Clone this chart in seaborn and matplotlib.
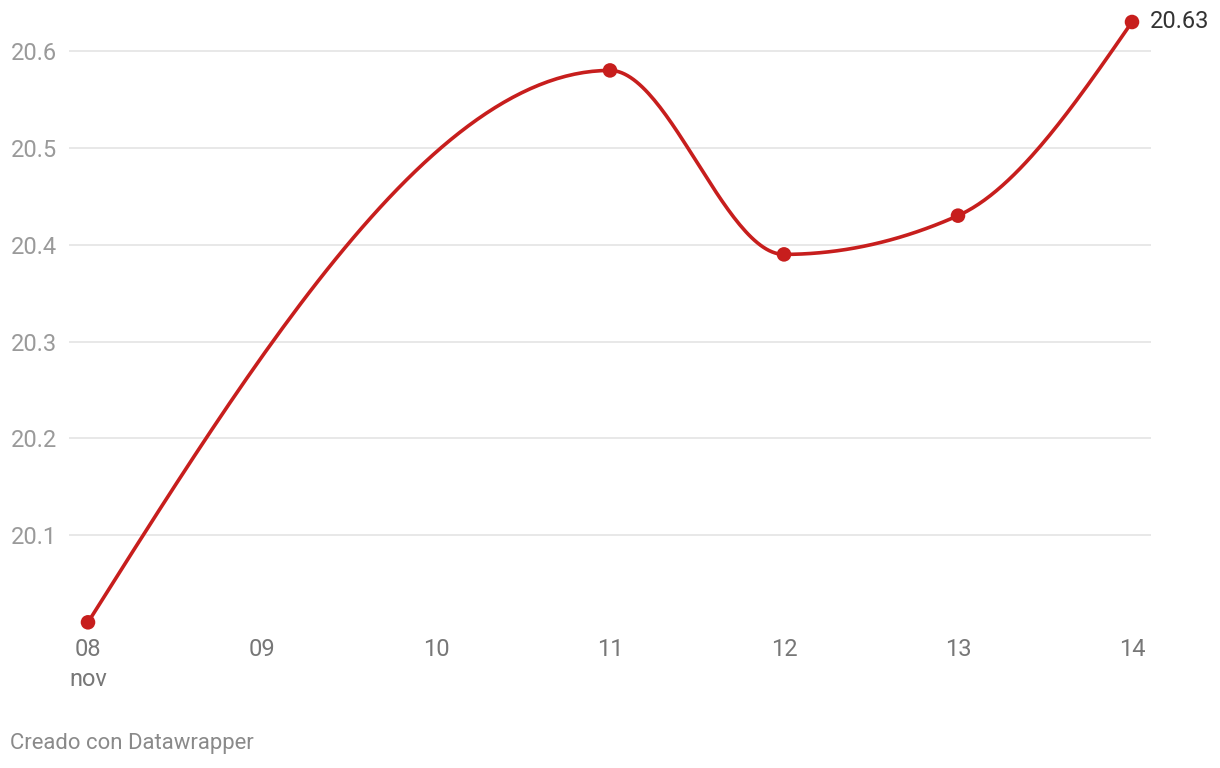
import numpy as np
import matplotlib
matplotlib.use("Agg")
import matplotlib.pyplot as plt
import seaborn as sns

sns.set_style("white")
plt.rcParams["font.family"] = ["Roboto", "DejaVu Sans"]

# datos
dias = [8, 11, 12, 13, 14]
valores = [20.01, 20.58, 20.39, 20.43, 20.63]
ticks_x = [8, 9, 10, 11, 12, 13, 14]
etiquetas_x = ["08", "09", "10", "11", "12", "13", "14"]
ticks_y = [20.1, 20.2, 20.3, 20.4, 20.5, 20.6]

ROJO = "#c71e1d"


def monotone_x(x, y, n=60):
    # curva monotona tipo d3.curveMonotoneX, solo para dibujar la linea
    x = np.asarray(x, float)
    y = np.asarray(y, float)
    h = np.diff(x)
    s = np.diff(y) / h
    m = np.zeros_like(y)
    for i in range(1, len(x) - 1):
        p = (s[i - 1] * h[i] + s[i] * h[i - 1]) / (h[i - 1] + h[i])
        m[i] = (np.sign(s[i - 1]) + np.sign(s[i])) * min(abs(s[i - 1]), abs(s[i]), 0.5 * abs(p))
    m[0] = (3 * s[0] - m[1]) / 2
    m[-1] = (3 * s[-1] - m[-2]) / 2
    xs, ys = [], []
    for i in range(len(x) - 1):
        u = np.linspace(0, 1, n)
        h00 = 2 * u**3 - 3 * u**2 + 1
        h10 = u**3 - 2 * u**2 + u
        h01 = -2 * u**3 + 3 * u**2
        h11 = u**3 - u**2
        xs.append(x[i] + u * h[i])
        ys.append(h00 * y[i] + h10 * h[i] * m[i] + h01 * y[i + 1] + h11 * h[i] * m[i + 1])
    return np.concatenate(xs), np.concatenate(ys)


fig = plt.figure(figsize=(12.2, 7.68), dpi=100)
ax = fig.add_axes([69 / 1220, 1 - 632 / 768, (1151 - 69) / 1220, (632 - 22) / 768])

cx, cy = monotone_x(dias, valores)
sns.lineplot(ax=ax, x=cx, y=cy, color=ROJO, linewidth=2.6, sort=False)
sns.scatterplot(ax=ax, x=dias, y=valores, color=ROJO, s=110, edgecolor="none",
                zorder=5, clip_on=False)

ax.set_xlim(8 - 19 / 174, 14 + 19 / 174)
ax.set_ylim(20.0, 20.63)

for v in ticks_y:
    ax.axhline(v, color="#e2e2e2", linewidth=1.1, zorder=0)

ax.set_xticks(ticks_x)
ax.set_xticklabels(etiquetas_x)
ax.set_yticks(ticks_y)
ax.set_yticklabels([f"{v:.1f}" for v in ticks_y])
ax.tick_params(axis="x", length=0, pad=4.5, labelsize=17, labelcolor="#777777")
ax.tick_params(axis="y", length=0, pad=0, labelsize=17, labelcolor="#9a9a9a")
for lab in ax.get_yticklabels():
    lab.set_horizontalalignment("left")
    lab.set_x(-58 / (1151 - 69))
for sp in ax.spines.values():
    sp.set_visible(False)
ax.set_xlabel("")
ax.set_ylabel("")

fig.text(88 / 1220, 1 - 680 / 768, "nov", ha="center", va="center",
         fontsize=17, color="#777777")
ax.annotate(f"{valores[-1]:.2f}", xy=(dias[-1], valores[-1]), xytext=(13, 0),
            textcoords="offset points", ha="left", va="center",
            fontsize=17, color="#333333", annotation_clip=False)
fig.text(10 / 1220, 1 - 744 / 768, "Creado con Datawrapper", ha="left", va="center",
         fontsize=15.9, color="#8a8a8a")

fig.savefig("out.png", dpi=100, facecolor="white")
